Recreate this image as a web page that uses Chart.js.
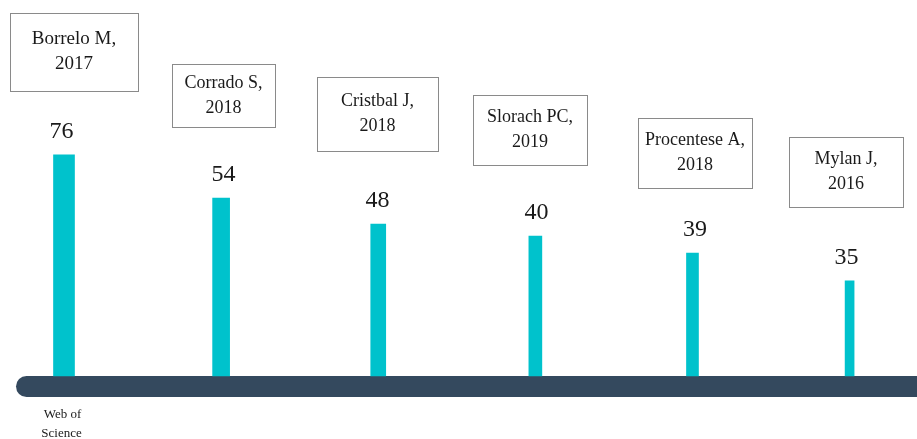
<!DOCTYPE html>
<html>
<head>
<meta charset="utf-8">
<script src="https://cdn.jsdelivr.net/npm/chart.js@4/dist/chart.umd.min.js"></script>
<style>
  html, body { margin: 0; padding: 0; background: #fff; }
  #wrap { width: 917px; height: 439px; }
</style>
</head>
<body>
<div id="wrap"><canvas id="cnvCites"></canvas></div>
<script>
// most cited papers (Web of Science)
const authors = ['Borrelo M,', 'Corrado S,', 'Cristbal J,', 'Slorach PC,', 'Procentese A,', 'Mylan J,']
const years = ['2017', '2018', '2018', '2019', '2018', '2016']
const citations = [76, 54, 48, 40, 39, 35]
// bar heights as drawn in the infographic (0-100 scale)
const barLevels = [58.8, 47.3, 40.4, 37.2, 32.7, 25.3]
const sourceLabel = ['Web of', 'Science']

const barColor = '#00c2cc'
const baseColor = '#34495e'
const thickness = [21, 17, 15, 13, 12, 9]
// callout boxes: width, height, gap above bar, x shift
const boxes = [
  { w: 128, h: 78, gap: 64, dx: 12.5 },
  { w: 103, h: 63, gap: 71, dx: 0 },
  { w: 121, h: 74, gap: 73, dx: 0 },
  { w: 114, h: 70, gap: 71, dx: -6.5 },
  { w: 114, h: 70, gap: 65, dx: 0 },
  { w: 114, h: 70, gap: 74, dx: -0.5 },
]
const labelNudge = [-2.5, 2.4, -0.8, 1.1, 2.5, -3.1]

// one dataset per bar so each can have its own thickness
let datasets = authors.map((a, i) => ({
  label: a,
  data: barLevels.map((v, j) => (j == i ? v : null)),
  backgroundColor: barColor,
  barThickness: thickness[i],
  grouped: false,
  clip: false,
}))

const calloutPlugin = {
  id: 'callouts',
  beforeDatasetsDraw(chart) {
    let ctx = chart.ctx
    let y0 = chart.scales.y.getPixelForValue(0)
    ctx.save()
    ctx.fillStyle = baseColor
    ctx.beginPath()
    ctx.roundRect(16, y0, chart.width + 20, 21, 10.5)
    ctx.fill()
    ctx.restore()
  },
  afterDatasetsDraw(chart) {
    let ctx = chart.ctx
    ctx.save()
    ctx.textAlign = 'center'
    ctx.textBaseline = 'middle'
    ctx.fillStyle = '#1a1a1a'
    authors.forEach((a, i) => {
      let bar = chart.getDatasetMeta(i).data[i]
      let x = bar.x + labelNudge[i]
      // value label
      ctx.font = '24px "Liberation Serif", "Times New Roman", serif'
      ctx.fillText(citations[i], x, bar.y - 23)
      // callout box
      let b = boxes[i]
      let bx = x + b.dx - b.w / 2
      let by = bar.y - b.gap - b.h
      ctx.strokeStyle = '#8a8a8a'
      ctx.lineWidth = 1
      ctx.strokeRect(Math.round(bx) + 0.5, Math.round(by) + 0.5, b.w, b.h)
      ctx.font = (i == 0 ? '19px' : '18px') + ' "Liberation Serif", "Times New Roman", serif'
      let cy = by + b.h / 2
      ctx.fillText(a, x + b.dx, cy - 12.5)
      ctx.fillText(years[i], x + b.dx, cy + 12.5)
    })
    // source under the first bar
    let first = chart.getDatasetMeta(0).data[0]
    let y0 = chart.scales.y.getPixelForValue(0)
    ctx.font = '13px "Liberation Serif", "Times New Roman", serif'
    ctx.fillText(sourceLabel[0], first.x - 1.5, y0 + 39)
    ctx.fillText(sourceLabel[1], first.x - 2.5, y0 + 58)
    ctx.restore()
  },
}

new Chart(document.getElementById('cnvCites').getContext('2d'), {
  type: 'bar',
  data: { labels: authors, datasets: datasets },
  options: {
    responsive: true,
    maintainAspectRatio: false,
    animation: false,
    layout: { padding: { left: 64, right: 67.4, top: 0, bottom: 63 } },
    plugins: { legend: { display: false }, tooltip: { enabled: false } },
    scales: {
      x: { display: false, offset: false },
      y: { display: false, min: 0, max: 100 },
    },
  },
  plugins: [calloutPlugin],
})
</script>
</body>
</html>
